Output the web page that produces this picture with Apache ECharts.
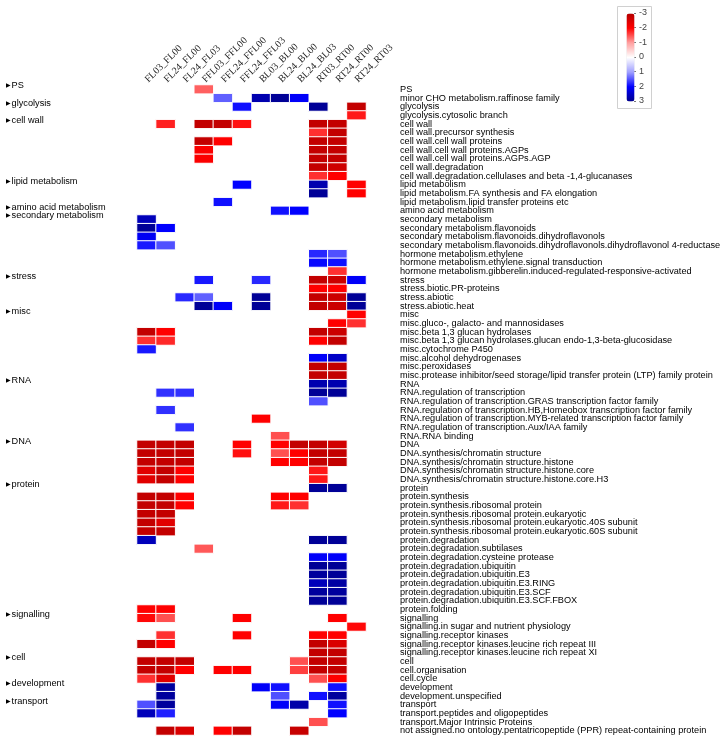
<!DOCTYPE html>
<html><head><meta charset="utf-8">
<script src="https://cdn.jsdelivr.net/npm/echarts/dist/echarts.min.js"></script>
<style>html,body{margin:0;padding:0;background:#fff}#c{width:726px;height:741px}</style>
</head><body><div id="c"></div>
<script>
const columns = ['FL03_FL00','FL24_FL00','FL24_FL03','FFL03_FFL00','FFL24_FFL00','FFL24_FFL03','BL03_BL00','BL24_BL00','BL24_BL03','RT03_RT00','RT24_RT00','RT24_RT03'];

const rows = [
'PS','minor CHO metabolism.raffinose family','glycolysis','glycolysis.cytosolic branch','cell wall',
'cell wall.precursor synthesis','cell wall.cell wall proteins','cell wall.cell wall proteins.AGPs','cell wall.cell wall proteins.AGPs.AGP','cell wall.degradation',
'cell wall.degradation.cellulases and beta -1,4-glucanases','lipid metabolism','lipid metabolism.FA synthesis and FA elongation','lipid metabolism.lipid transfer proteins etc','amino acid metabolism',
'secondary metabolism','secondary metabolism.flavonoids','secondary metabolism.flavonoids.dihydroflavonols','secondary metabolism.flavonoids.dihydroflavonols.dihydroflavonol 4-reductase','hormone metabolism.ethylene',
'hormone metabolism.ethylene.signal transduction','hormone metabolism.gibberelin.induced-regulated-responsive-activated','stress','stress.biotic.PR-proteins','stress.abiotic',
'stress.abiotic.heat','misc','misc.gluco-, galacto- and mannosidases','misc.beta 1,3 glucan hydrolases','misc.beta 1,3 glucan hydrolases.glucan endo-1,3-beta-glucosidase',
'misc.cytochrome P450','misc.alcohol dehydrogenases','misc.peroxidases','misc.protease inhibitor/seed storage/lipid transfer protein (LTP) family protein','RNA',
'RNA.regulation of transcription','RNA.regulation of transcription.GRAS transcription factor family','RNA.regulation of transcription.HB,Homeobox transcription factor family','RNA.regulation of transcription.MYB-related transcription factor family','RNA.regulation of transcription.Aux/IAA family',
'RNA.RNA binding','DNA','DNA.synthesis/chromatin structure','DNA.synthesis/chromatin structure.histone','DNA.synthesis/chromatin structure.histone.core',
'DNA.synthesis/chromatin structure.histone.core.H3','protein','protein.synthesis','protein.synthesis.ribosomal protein','protein.synthesis.ribosomal protein.eukaryotic',
'protein.synthesis.ribosomal protein.eukaryotic.40S subunit','protein.synthesis.ribosomal protein.eukaryotic.60S subunit','protein.degradation','protein.degradation.subtilases','protein.degradation.cysteine protease',
'protein.degradation.ubiquitin','protein.degradation.ubiquitin.E3','protein.degradation.ubiquitin.E3.RING','protein.degradation.ubiquitin.E3.SCF','protein.degradation.ubiquitin.E3.SCF.FBOX',
'protein.folding','signalling','signalling.in sugar and nutrient physiology','signalling.receptor kinases','signalling.receptor kinases.leucine rich repeat III',
'signalling.receptor kinases.leucine rich repeat XI','cell','cell.organisation','cell.cycle','development',
'development.unspecified','transport','transport.peptides and oligopeptides','transport.Major Intrinsic Proteins','not assigned.no ontology.pentatricopeptide (PPR) repeat-containing protein'
];

const groupRows = ['PS','glycolysis','cell wall','lipid metabolism','amino acid metabolism','secondary metabolism','stress','misc','RNA','DNA','protein','signalling','cell','development','transport'];

const legendTicks = [-3,-2,-1,0,1,2,3];

// values per column, keyed by row number (1 = first row)
const FL03_FL00 = {16:2.6,17:2.9,18:2.1,19:1.85,29:-2.8,30:-1.7,31:1.85,42:-2.8,43:-2.8,44:-2.8,45:-2.4,46:-2.4,48:-2.8,49:-2.8,50:-2.8,51:-2.8,52:-2.8,53:2.6,61:-2.0,62:-1.95,65:-2.8,67:-2.8,68:-2.8,69:-1.7,72:1.5,73:2.6};
const FL24_FL00 = {5:-1.8,17:2.0,19:1.5,29:-2.0,30:-1.75,36:1.7,38:1.7,42:-2.8,43:-2.8,44:-2.8,45:-2.8,46:-2.8,48:-2.8,49:-2.8,50:-2.8,51:-2.4,52:-2.8,61:-2.0,62:-1.5,64:-1.7,65:-2.0,67:-2.8,68:-2.8,69:-2.4,70:2.85,71:2.85,72:2.85,73:1.8,75:-2.8};
const FL24_FL03 = {25:1.75,36:1.7,40:1.7,42:-2.8,43:-2.8,44:-2.8,45:-2.0,46:-2.0,48:-2.0,49:-2.0,67:-2.8,68:-2.0,75:-2.5};
const FFL03_FFL00 = {1:-1.4,5:-2.8,7:-2.8,8:-2.05,9:-2.05,23:1.85,25:1.4,26:2.9,54:-1.45};
const FFL24_FFL00 = {2:1.4,5:-2.8,7:-2.0,14:1.9,26:2.05,68:-2.0,75:-2.0};
const FFL24_FFL03 = {3:1.9,5:-1.9,12:2.0,42:-2.0,43:-1.9,62:-2.0,64:-2.0,68:-2.0,75:-2.8};
const BL03_BL00 = {2:2.7,23:1.75,25:2.9,26:2.9,39:-2.0,70:2.05};
const BL24_BL00 = {2:2.9,15:1.9,41:-1.5,42:-2.0,43:-1.5,44:-2.0,48:-2.0,49:-1.85,70:1.9,71:1.5,72:2.05};
const BL24_BL03 = {2:2.05,15:2.0,42:-2.8,43:-2.0,44:-2.0,48:-2.0,49:-1.7,67:-1.5,68:-1.6,72:2.75,75:-2.75};
const RT03_RT00 = {3:2.9,5:-2.8,6:-1.7,7:-2.8,8:-2.8,9:-2.8,10:-2.8,11:-1.7,12:2.7,13:2.9,20:1.75,21:1.95,23:-2.8,24:-2.0,25:-2.8,26:-2.8,29:-2.8,30:-2.0,32:2.05,33:-2.8,34:-2.8,35:2.7,36:2.9,37:1.5,42:-2.8,43:-2.8,44:-2.8,45:-1.85,46:-1.85,47:2.9,53:2.9,55:2.05,56:2.9,57:2.85,58:2.6,59:2.85,60:2.9,64:-2.0,65:-2.8,66:-2.8,67:-2.8,68:-2.8,69:-1.5,71:1.9,74:-1.5};
const RT24_RT00 = {5:-2.8,6:-2.8,7:-2.8,8:-2.8,9:-2.8,10:-2.65,11:-2.0,20:1.5,21:1.9,22:-1.7,23:-2.7,24:-2.0,25:-2.7,26:-2.7,28:-2.0,29:-2.7,30:-2.8,32:2.5,33:-2.8,34:-2.8,35:2.7,36:2.9,42:-2.6,43:-2.8,44:-2.8,47:2.9,53:2.9,55:2.05,56:2.9,57:2.9,58:2.8,59:2.85,60:2.9,62:-2.0,64:-2.0,65:-2.5,66:-2.8,67:-2.8,68:-2.8,69:-2.0,70:1.9,71:2.85,72:1.9,73:2.0};
const RT24_RT03 = {3:-2.8,4:-1.85,12:-2.0,13:-2.0,23:2.05,25:2.9,26:2.9,27:-2.0,28:-1.7,63:-1.95};

const columnValues = [FL03_FL00,FL24_FL00,FL24_FL03,FFL03_FFL00,FFL24_FFL00,FFL24_FFL03,BL03_BL00,BL24_BL00,BL24_BL03,RT03_RT00,RT24_RT00,RT24_RT03];

const data = [];
columnValues.forEach((col, c) => {
  Object.keys(col).forEach(r => data.push([c, Number(r) - 1, col[r]]));
});

const chart = echarts.init(document.getElementById('c'), null, {renderer: 'canvas'});
chart.setOption({
  animation: false,
  backgroundColor: '#fff',
  tooltip: {show: false},
  grid: [
    {left: 137, top: 85, width: 229, height: 650},
    {left: 634, top: 13, width: 1, height: 88}
  ],
  xAxis: [
    {type: 'category', data: columns, position: 'top', gridIndex: 0,
     axisLine: {show: false}, axisTick: {show: false}, splitLine: {show: false},
     axisLabel: {interval: 0, rotate: -45, align: 'left', verticalAlign: 'middle', margin: 4,
       fontFamily: 'Liberation Serif', fontSize: 10, color: '#222'}},
    {type: 'value', gridIndex: 1, show: false}
  ],
  yAxis: [
    {type: 'category', data: rows, inverse: true, position: 'right', gridIndex: 0,
     axisLine: {show: false}, axisTick: {show: false}, splitLine: {show: false},
     axisLabel: {interval: 0, margin: 34, fontFamily: 'Liberation Sans', fontSize: 9.2, color: '#000'}},
    {type: 'category', data: rows, inverse: true, position: 'left', gridIndex: 0,
     axisLine: {show: false}, axisTick: {show: false}, splitLine: {show: false},
     axisLabel: {interval: 0, margin: 131, align: 'left', padding: [0, 0, 7, 0],
       fontFamily: 'Liberation Sans', fontSize: 9.2, color: '#000',
       formatter: v => groupRows.includes(v) ? '{t|\u25B6}' + v : '',
       rich: {t: {fontSize: 6, fontFamily: 'DejaVu Sans', color: '#000', padding: [0, 1, 0, 0]}}}},
    {type: 'value', gridIndex: 1, min: legendTicks[0], max: legendTicks[legendTicks.length - 1], interval: 1, inverse: true, position: 'right',
     axisLine: {show: false}, axisTick: {show: true, length: 2, lineStyle: {color: '#777'}}, splitLine: {show: false},
     axisLabel: {margin: 4, fontFamily: 'Liberation Sans', fontSize: 9, color: '#444'}}
  ],
  visualMap: {
    type: 'continuous', min: -3, max: 3, inverse: true, seriesIndex: 0,
    left: 617, top: 6, itemWidth: 8, itemHeight: 88, calculable: false, hoverLink: false,
    borderColor: '#d0d0d0', borderWidth: 1, padding: [7, 17, 7, 9],
    inRange: {color: ['#b40000', '#ff0000', '#ffa0a0', '#ffffff', '#a0a0ff', '#0000ff', '#00008c']}
  },
  series: [{
    type: 'heatmap', xAxisIndex: 0, yAxisIndex: 0, data: data,
    itemStyle: {borderColor: '#fff', borderWidth: 1},
    emphasis: {disabled: true}
  }]
});
</script></body></html>
